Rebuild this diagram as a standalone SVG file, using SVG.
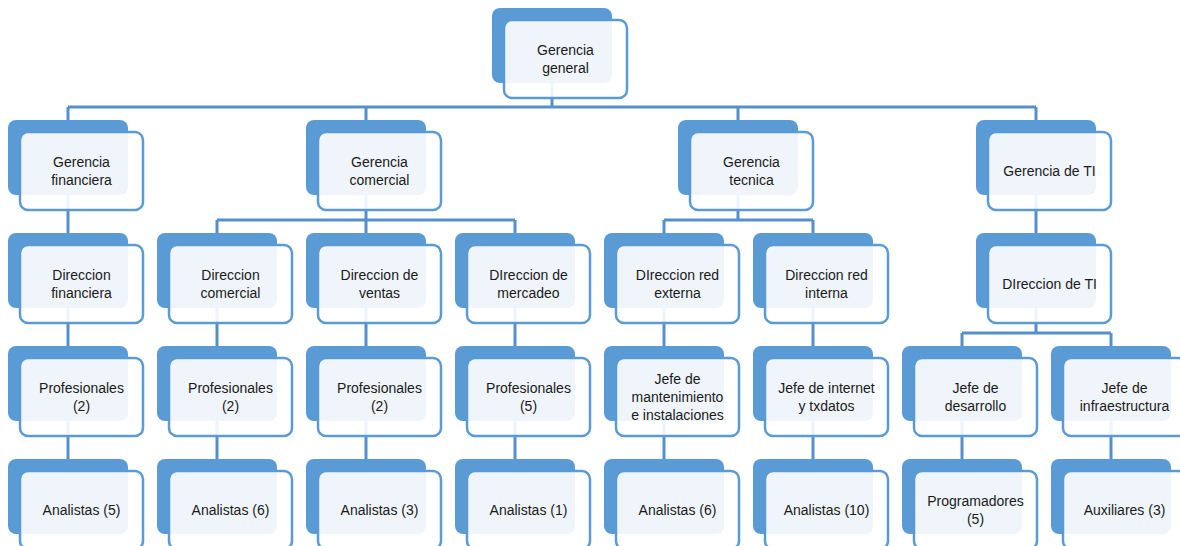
<svg xmlns="http://www.w3.org/2000/svg" width="1180" height="546" viewBox="0 0 1180 546">
<style>
.bk{fill:#5B9BD5}
.fr{fill:#ffffff;fill-opacity:0.9;stroke:#5B9BD5;stroke-width:2.5}
.t{font-family:"Liberation Sans",Arial,sans-serif;font-size:14px;fill:#1a1a1a;text-anchor:middle}
.c{fill:none;stroke:#5490CC;stroke-width:3}
</style>
<rect width="1180" height="546" fill="#ffffff"/>
<g id="connectors" class="c">
<path d="M552 82V107M68 107H1036M68 107V459M366 107V220M738 107V220M1036 107V333"/>
<path d="M217 220H515M217 220V459M366 220V459M515 220V459"/>
<path d="M664 220H813M664 220V459M813 220V459"/>
<path d="M962 333H1111M962 333V459M1111 333V459"/>
</g>
<g id="n-gerencia-general"><rect class="bk" x="492" y="8" width="120" height="75" rx="8"/><rect class="fr" x="504" y="20" width="123" height="78" rx="8"/><text class="t" x="565.5" y="55">Gerencia</text><text class="t" x="565.5" y="73">general</text></g>

<g id="n-gerencia-financiera"><rect class="bk" x="8" y="120" width="120" height="75" rx="8"/><rect class="fr" x="20" y="132" width="123" height="78" rx="8"/><text class="t" x="81.5" y="167">Gerencia</text><text class="t" x="81.5" y="185">financiera</text></g>
<g id="n-gerencia-comercial"><rect class="bk" x="306" y="120" width="120" height="75" rx="8"/><rect class="fr" x="318" y="132" width="123" height="78" rx="8"/><text class="t" x="379.5" y="167">Gerencia</text><text class="t" x="379.5" y="185">comercial</text></g>
<g id="n-gerencia-tecnica"><rect class="bk" x="678" y="120" width="120" height="75" rx="8"/><rect class="fr" x="690" y="132" width="123" height="78" rx="8"/><text class="t" x="751.5" y="167">Gerencia</text><text class="t" x="751.5" y="185">tecnica</text></g>
<g id="n-gerencia-ti"><rect class="bk" x="976" y="120" width="120" height="75" rx="8"/><rect class="fr" x="988" y="132" width="123" height="78" rx="8"/><text class="t" x="1049.5" y="176">Gerencia de TI</text></g>

<g id="n-direccion-financiera"><rect class="bk" x="8" y="233" width="120" height="75" rx="8"/><rect class="fr" x="20" y="245" width="123" height="78" rx="8"/><text class="t" x="81.5" y="280">Direccion</text><text class="t" x="81.5" y="298">financiera</text></g>
<g id="n-direccion-comercial"><rect class="bk" x="157" y="233" width="120" height="75" rx="8"/><rect class="fr" x="169" y="245" width="123" height="78" rx="8"/><text class="t" x="230.5" y="280">Direccion</text><text class="t" x="230.5" y="298">comercial</text></g>
<g id="n-direccion-ventas"><rect class="bk" x="306" y="233" width="120" height="75" rx="8"/><rect class="fr" x="318" y="245" width="123" height="78" rx="8"/><text class="t" x="379.5" y="280">Direccion de</text><text class="t" x="379.5" y="298">ventas</text></g>
<g id="n-direccion-mercadeo"><rect class="bk" x="455" y="233" width="120" height="75" rx="8"/><rect class="fr" x="467" y="245" width="123" height="78" rx="8"/><text class="t" x="528.5" y="280">DIreccion de</text><text class="t" x="528.5" y="298">mercadeo</text></g>
<g id="n-direccion-red-externa"><rect class="bk" x="604" y="233" width="120" height="75" rx="8"/><rect class="fr" x="616" y="245" width="123" height="78" rx="8"/><text class="t" x="677.5" y="280">DIreccion red</text><text class="t" x="677.5" y="298">externa</text></g>
<g id="n-direccion-red-interna"><rect class="bk" x="753" y="233" width="120" height="75" rx="8"/><rect class="fr" x="765" y="245" width="123" height="78" rx="8"/><text class="t" x="826.5" y="280">Direccion red</text><text class="t" x="826.5" y="298">interna</text></g>
<g id="n-direccion-ti"><rect class="bk" x="976" y="233" width="120" height="75" rx="8"/><rect class="fr" x="988" y="245" width="123" height="78" rx="8"/><text class="t" x="1049.5" y="289">DIreccion de TI</text></g>

<g id="n-prof-1"><rect class="bk" x="8" y="346" width="120" height="75" rx="8"/><rect class="fr" x="20" y="358" width="123" height="78" rx="8"/><text class="t" x="81.5" y="393">Profesionales</text><text class="t" x="81.5" y="411">(2)</text></g>
<g id="n-prof-2"><rect class="bk" x="157" y="346" width="120" height="75" rx="8"/><rect class="fr" x="169" y="358" width="123" height="78" rx="8"/><text class="t" x="230.5" y="393">Profesionales</text><text class="t" x="230.5" y="411">(2)</text></g>
<g id="n-prof-3"><rect class="bk" x="306" y="346" width="120" height="75" rx="8"/><rect class="fr" x="318" y="358" width="123" height="78" rx="8"/><text class="t" x="379.5" y="393">Profesionales</text><text class="t" x="379.5" y="411">(2)</text></g>
<g id="n-prof-4"><rect class="bk" x="455" y="346" width="120" height="75" rx="8"/><rect class="fr" x="467" y="358" width="123" height="78" rx="8"/><text class="t" x="528.5" y="393">Profesionales</text><text class="t" x="528.5" y="411">(5)</text></g>
<g id="n-jefe-mant"><rect class="bk" x="604" y="346" width="120" height="75" rx="8"/><rect class="fr" x="616" y="358" width="123" height="78" rx="8"/><text class="t" x="677.5" y="384">Jefe de</text><text class="t" x="677.5" y="402">mantenimiento</text><text class="t" x="677.5" y="420">e instalaciones</text></g>
<g id="n-jefe-internet"><rect class="bk" x="753" y="346" width="120" height="75" rx="8"/><rect class="fr" x="765" y="358" width="123" height="78" rx="8"/><text class="t" x="826.5" y="393">Jefe de internet</text><text class="t" x="826.5" y="411">y txdatos</text></g>
<g id="n-jefe-desarrollo"><rect class="bk" x="902" y="346" width="120" height="75" rx="8"/><rect class="fr" x="914" y="358" width="123" height="78" rx="8"/><text class="t" x="975.5" y="393">Jefe de</text><text class="t" x="975.5" y="411">desarrollo</text></g>
<g id="n-jefe-infra"><rect class="bk" x="1051" y="346" width="120" height="75" rx="8"/><rect class="fr" x="1063" y="358" width="123" height="78" rx="8"/><text class="t" x="1124.5" y="393">Jefe de</text><text class="t" x="1124.5" y="411">infraestructura</text></g>

<g id="n-an-1"><rect class="bk" x="8" y="459" width="120" height="75" rx="8"/><rect class="fr" x="20" y="471" width="123" height="78" rx="8"/><text class="t" x="81.5" y="515">Analistas (5)</text></g>
<g id="n-an-2"><rect class="bk" x="157" y="459" width="120" height="75" rx="8"/><rect class="fr" x="169" y="471" width="123" height="78" rx="8"/><text class="t" x="230.5" y="515">Analistas (6)</text></g>
<g id="n-an-3"><rect class="bk" x="306" y="459" width="120" height="75" rx="8"/><rect class="fr" x="318" y="471" width="123" height="78" rx="8"/><text class="t" x="379.5" y="515">Analistas (3)</text></g>
<g id="n-an-4"><rect class="bk" x="455" y="459" width="120" height="75" rx="8"/><rect class="fr" x="467" y="471" width="123" height="78" rx="8"/><text class="t" x="528.5" y="515">Analistas (1)</text></g>
<g id="n-an-5"><rect class="bk" x="604" y="459" width="120" height="75" rx="8"/><rect class="fr" x="616" y="471" width="123" height="78" rx="8"/><text class="t" x="677.5" y="515">Analistas (6)</text></g>
<g id="n-an-6"><rect class="bk" x="753" y="459" width="120" height="75" rx="8"/><rect class="fr" x="765" y="471" width="123" height="78" rx="8"/><text class="t" x="826.5" y="515">Analistas (10)</text></g>
<g id="n-programadores"><rect class="bk" x="902" y="459" width="120" height="75" rx="8"/><rect class="fr" x="914" y="471" width="123" height="78" rx="8"/><text class="t" x="975.5" y="506">Programadores</text><text class="t" x="975.5" y="524">(5)</text></g>
<g id="n-auxiliares"><rect class="bk" x="1051" y="459" width="120" height="75" rx="8"/><rect class="fr" x="1063" y="471" width="123" height="78" rx="8"/><text class="t" x="1124.5" y="515">Auxiliares (3)</text></g>
</svg>
